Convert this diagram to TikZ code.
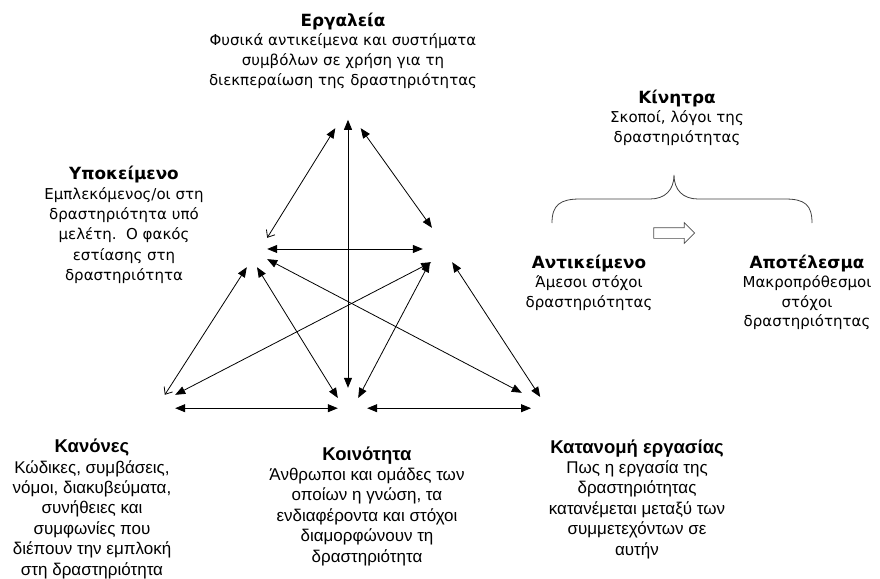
\documentclass[tikz,border=0pt]{standalone}
\usepackage{fontspec}
\setmainfont{DejaVu Sans}
\newfontfamily\arialfont{Liberation Sans}
\usepackage{tikz}
\usetikzlibrary{arrows.meta, shapes.arrows, positioning}

\newcommand{\hdup}[1]{{\bfseries\fontsize{16.8}{19.8}\selectfont #1}}
\newcommand{\hdlow}[1]{{\bfseries\fontsize{18.5}{20.4}\selectfont #1}}

\begin{document}
\begin{tikzpicture}[
    x=1pt, y=-1pt,
    txtup/.style={align=center, inner sep=0pt, anchor=base, font=\fontsize{15}{19.8}\selectfont},
    txtlow/.style={align=center, inner sep=0pt, anchor=base, font=\arialfont\fontsize{17}{20.4}\selectfont},
    vx/.style={rectangle, inner sep=0pt},
    arrow/.style={{Triangle[length=10pt,width=8pt]}-{Triangle[length=10pt,width=8pt]}, line width=0.8pt},
    halfopen/.style={{Straight Barb[length=6pt,width=10pt]}-{Triangle[length=10pt,width=8pt]}, line width=0.8pt},
    brace/.style={draw=black!75, line width=0.8pt}
]
\useasboundingbox (0,0) rectangle (880,578);

% texts (placed at the baseline of their last line)
\node[txtup] (tools) at (343,85.4) {\hdup{Εργαλεία}\\Φυσικά αντικείμενα και συστήματα\\συμβόλων σε χρήση για τη\\διεκπεραίωση της δραστηριότητας};
\node[txtup, font=\fontsize{15}{20.3}\selectfont] (subj) at (124,280.5) {\hdup{Υποκείμενο}\\Εμπλεκόμενος/οι στη\\δραστηριότητα υπό\\μελέτη.~~Ο φακός\\εστίασης στη\\δραστηριότητα};
\node[txtup] (motiv) at (677,142.6) {\hdup{Κίνητρα}\\Σκοποί, λόγοι της\\δραστηριότητας};
\node[txtup, font=\fontsize{15}{19.5}\selectfont] (obj) at (589,307) {\hdup{Αντικείμενο}\\Άμεσοι στόχοι\\δραστηριότητας};
\node[txtup, font=\fontsize{15}{19.5}\selectfont] (outc) at (807,326.5) {\hdup{Αποτέλεσμα}\\Μακροπρόθεσμοι\\στόχοι\\δραστηριότητας};
\node[txtlow] (rules) at (92,575) {\hdlow{Κανόνες}\\Κώδικες, συμβάσεις,\\νόμοι, διακυβεύματα,\\συνήθειες και\\συμφωνίες που\\διέπουν την εμπλοκή\\στη δραστηριότητα};
\node[txtlow] (comm) at (367,562) {\hdlow{Κοινότητα}\\Άνθρωποι και ομάδες των\\οποίων η γνώση, τα\\ενδιαφέροντα και στόχοι\\διαμορφώνουν τη\\δραστηριότητα};
\node[txtlow] (divl) at (637,555) {\hdlow{Κατανομή εργασίας}\\Πως η εργασία της\\δραστηριότητας\\κατανέμεται μεταξύ των\\συμμετεχόντων σε\\αυτήν};

% corners of the triangle
\node[vx, minimum width=25pt, minimum height=8pt] (T) at (348,124) {};
\node[vx, minimum width=20pt, minimum height=29pt] (S) at (257,252.5) {};
\node[vx, minimum width=29pt, minimum height=34pt] (O) at (437.5,245) {};
\node[vx, minimum width=10pt, minimum height=13pt] (R) at (170,401.5) {};
\node[vx, minimum width=20pt, minimum height=20pt] (C) at (348,398) {};
\node[vx, minimum width=18pt, minimum height=15pt] (D) at (531,400.5) {};

\draw[halfopen] (S.north east) -- (T.south west);
\draw[arrow] (T.south east) -- (O.108);
\draw[arrow] (T.north) -- (C.north);
\draw[arrow] (S.19) -- (S.19 -| O.west);
\draw[arrow] (S.-33) -- (D.north west);
\draw[arrow] (O.250) -- (R.north east);
\draw[halfopen] (R.north west) -- (S.south west);
\draw[arrow] (S.south) -- (C.west);
\draw[arrow] (O.246) -- (C.east);
\draw[arrow] (O.south east) -- (D.21);
\draw[arrow] (R.south east) -- (C.south west);
\draw[arrow] ([xshift=9pt]C.south east) -- (D.south);

% brace and shift arrow
\draw[brace] (552,223) .. controls (552,205) and (560,199) .. (580,199) -- (650,199)
    .. controls (665,199) and (674,190) .. (674,175)
    .. controls (674,190) and (683,199) .. (698,199) -- (785,199)
    .. controls (805,199) and (812,205) .. (812,223);
\node[single arrow, draw=black!70, line width=0.7pt, inner sep=5pt, minimum height=41pt,
      single arrow head extend=5pt] (shift) at (671.5,233) {};

\end{tikzpicture}
\end{document}
